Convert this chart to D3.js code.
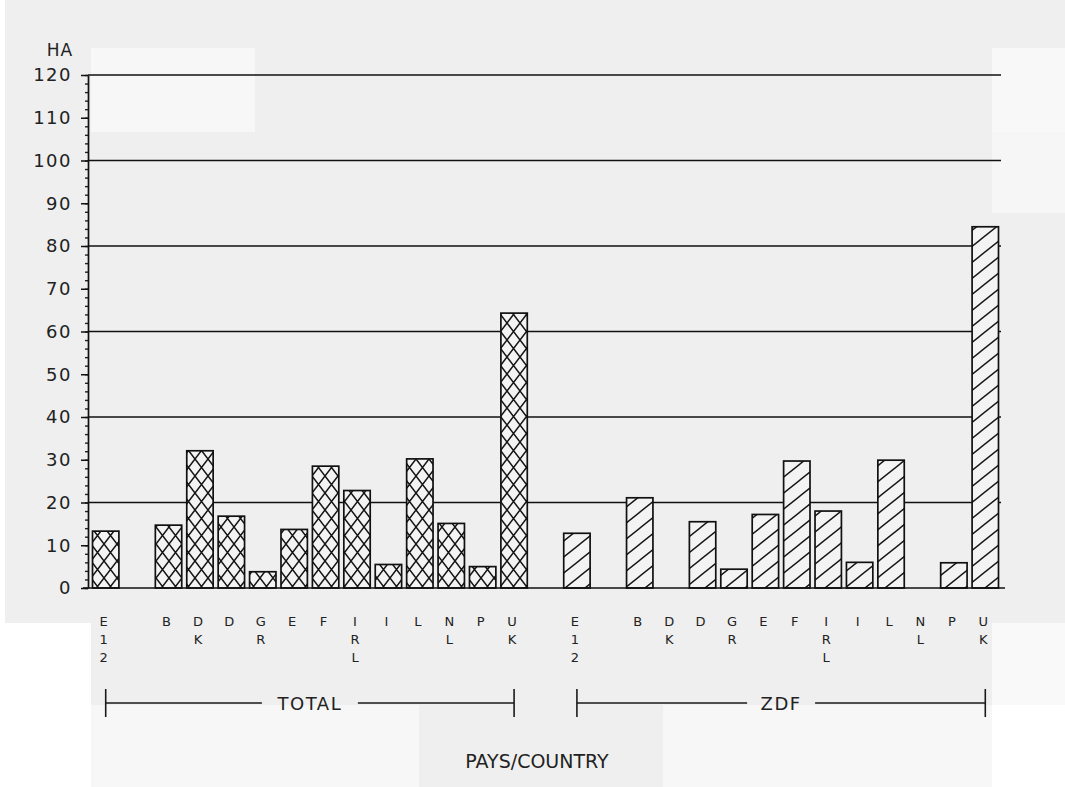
<!DOCTYPE html>
<html>
<head>
<meta charset="utf-8">
<script src="https://cdn.jsdelivr.net/npm/d3@7"></script>
<style>
  html, body { margin: 0; padding: 0; background: #ffffff; }
  svg { display: block; }
  text { font-family: "DejaVu Sans", sans-serif; fill: #222; }
</style>
</head>
<body>
<svg class="chart" width="1065" height="787"></svg>
<script>
// data (hectares)
var countries = ["E12", "B", "DK", "D", "GR", "E", "F", "IRL", "I", "L", "NL", "P", "UK"];
var totalValues = [13.3, 14.7, 32.1, 16.8, 3.8, 13.7, 28.5, 22.8, 5.5, 30.2, 15.1, 5.0, 64.3];
var zdfValues   = [12.8, 21.1, 0, 15.5, 4.4, 17.2, 29.7, 18.0, 6.0, 29.9, 0, 5.9, 84.5];
var groups = ["TOTAL", "ZDF"];
var yTicks = [0, 10, 20, 30, 40, 50, 60, 70, 80, 90, 100, 110, 120];
var gridValues = [20, 40, 60, 80, 100, 120];

var chart = d3.select("svg.chart");

// scanned paper background
var bg = chart.append("g").attr("class", "paper");
bg.append("rect").attr("x", 5).attr("y", 0).attr("width", 1060).attr("height", 623).attr("fill", "#efefef");
bg.append("rect").attr("x", 91).attr("y", 623).attr("width", 901).attr("height", 82).attr("fill", "#efefef");
bg.append("rect").attr("x", 992).attr("y", 623).attr("width", 73).attr("height", 82).attr("fill", "#f9f9f9");
bg.append("rect").attr("x", 91).attr("y", 705).attr("width", 901).attr("height", 82).attr("fill", "#f7f7f7");
bg.append("rect").attr("x", 419).attr("y", 705).attr("width", 244).attr("height", 82).attr("fill", "#efefef");
bg.append("rect").attr("x", 91).attr("y", 48).attr("width", 164).attr("height", 84).attr("fill", "#f7f7f7");
bg.append("rect").attr("x", 992).attr("y", 48).attr("width", 73).attr("height", 84).attr("fill", "#f8f8f8");
bg.append("rect").attr("x", 992).attr("y", 132).attr("width", 73).attr("height", 81).attr("fill", "#f6f6f6");

// hatch patterns
var defs = chart.append("defs");
var cross = defs.append("pattern").attr("id", "cross")
  .attr("patternUnits", "userSpaceOnUse").attr("width", 13).attr("height", 17);
cross.append("rect").attr("width", 13).attr("height", 17).attr("fill", "#f3f3f3");
cross.append("path").attr("d", "M0,0L13,17M13,0L0,17")
  .attr("stroke", "#151515").attr("stroke-width", 1.5);

var hatch = defs.append("pattern").attr("id", "hatch")
  .attr("patternUnits", "userSpaceOnUse").attr("width", 20).attr("height", 16);
hatch.append("rect").attr("width", 20).attr("height", 16).attr("fill", "#f3f3f3");
hatch.append("path").attr("d", "M0,16L20,0M-5,4L5,-4M15,20L25,12")
  .attr("stroke", "#151515").attr("stroke-width", 1.4);

// slots: each group has a blank slot after E12, one blank slot between groups
var slots = [];
var rows = [];
groups.forEach(function(g, gi) {
  var vals = gi == 0 ? totalValues : zdfValues;
  countries.forEach(function(c, i) {
    var key = g + "-" + c;
    slots.push(key);
    rows.push({ key: key, group: g, country: c, value: vals[i] });
    if (i == 0) slots.push(g + "-gap");
  });
  if (gi == 0) slots.push("sep");
});

var xScale = d3.scaleBand().domain(slots).range([90, 1001]).paddingInner(0.16).paddingOuter(0.08),
    yScale = d3.scaleLinear().domain([0, 120]).range([588, 75]);

// grid lines
chart.append("g").attr("class", "grid")
  .selectAll("line").data(gridValues).enter().append("line")
  .attr("x1", 88).attr("x2", 1001)
  .attr("y1", function(d) { return yScale(d); })
  .attr("y2", function(d) { return yScale(d); })
  .attr("stroke", "#111").attr("stroke-width", 1.4);

// bars
chart.append("g").attr("class", "bars")
  .selectAll("rect").data(rows.filter(function(d) { return d.value > 0; }))
  .enter().append("rect")
  .attr("x", function(d) { return xScale(d.key); })
  .attr("width", xScale.bandwidth())
  .attr("y", function(d) { return yScale(d.value); })
  .attr("height", function(d) { return yScale(0) - yScale(d.value); })
  .attr("fill", function(d) { return d.group == "TOTAL" ? "url(#cross)" : "url(#hatch)"; })
  .attr("stroke", "#111").attr("stroke-width", 1.7);

// zero line
chart.append("line").attr("x1", 83).attr("x2", 1005)
  .attr("y1", yScale(0)).attr("y2", yScale(0))
  .attr("stroke", "#111").attr("stroke-width", 1.5);

// y axis with minor ticks
var minorAxis = d3.axisLeft(yScale).tickValues(d3.range(0, 121, 2)).tickSize(3).tickFormat("");
chart.append("g").attr("id", "yMinor").attr("transform", "translate(88,0)").call(minorAxis)
  .call(function(g) { g.select(".domain").remove(); })
  .selectAll("line").attr("stroke", "#222").attr("stroke-width", 1.4);

var yAxis = d3.axisLeft(yScale).tickValues(yTicks).tickSize(7).tickSizeOuter(0).tickPadding(9);
var yAxisG = chart.append("g").attr("id", "yAxisG").attr("transform", "translate(88,0)").call(yAxis);
yAxisG.select(".domain").attr("stroke", "#111").attr("stroke-width", 1.7);
yAxisG.selectAll(".tick line").attr("stroke", "#111").attr("stroke-width", 1.5);
yAxisG.selectAll(".tick text")
  .attr("font-size", 18).attr("letter-spacing", 1.5)
  .attr("font-family", "DejaVu Sans, sans-serif").attr("fill", "#1e1e1e");

chart.append("text").attr("x", 60).attr("y", 56)
  .attr("text-anchor", "middle").attr("font-size", 17).attr("letter-spacing", 1)
  .text("HA");

// stacked country labels
var labels = chart.append("g").attr("class", "xlabels")
  .selectAll("text").data(rows).enter().append("text")
  .attr("text-anchor", "middle")
  .attr("font-family", "DejaVu Sans Mono, monospace")
  .attr("font-size", 13);
labels.selectAll("tspan")
  .data(function(d) {
    return d.country.split("").map(function(ch, j) { return { ch: ch, j: j, x: xScale(d.key) + xScale.bandwidth() / 2 - 2 }; });
  })
  .enter().append("tspan")
  .attr("x", function(t) { return t.x; })
  .attr("y", function(t) { return 626 + t.j * 18; })
  .text(function(t) { return t.ch; });

// group brackets
groups.forEach(function(g) {
  var first = xScale(g + "-" + countries[0]) + xScale.bandwidth() / 2,
      last = xScale(g + "-" + countries[countries.length - 1]) + xScale.bandwidth() / 2,
      mid = (first + last) / 2,
      half = g == "TOTAL" ? 48 : 34,
      br = chart.append("g").attr("class", "bracket").attr("stroke", "#1a1a1a").attr("stroke-width", 1.6);
  br.append("line").attr("x1", first).attr("x2", first).attr("y1", 689).attr("y2", 717);
  br.append("line").attr("x1", last).attr("x2", last).attr("y1", 689).attr("y2", 717);
  br.append("line").attr("x1", first).attr("x2", mid - half).attr("y1", 703).attr("y2", 703).attr("stroke-width", 1.3);
  br.append("line").attr("x1", mid + half).attr("x2", last).attr("y1", 703).attr("y2", 703).attr("stroke-width", 1.3);
  chart.append("text").attr("x", mid).attr("y", 710)
    .attr("text-anchor", "middle").attr("font-size", 18).attr("letter-spacing", 1.5)
    .text(g);
});

chart.append("text").attr("x", 537).attr("y", 768)
  .attr("text-anchor", "middle").attr("font-size", 19)
  .text("PAYS/COUNTRY");
</script>
</body>
</html>
